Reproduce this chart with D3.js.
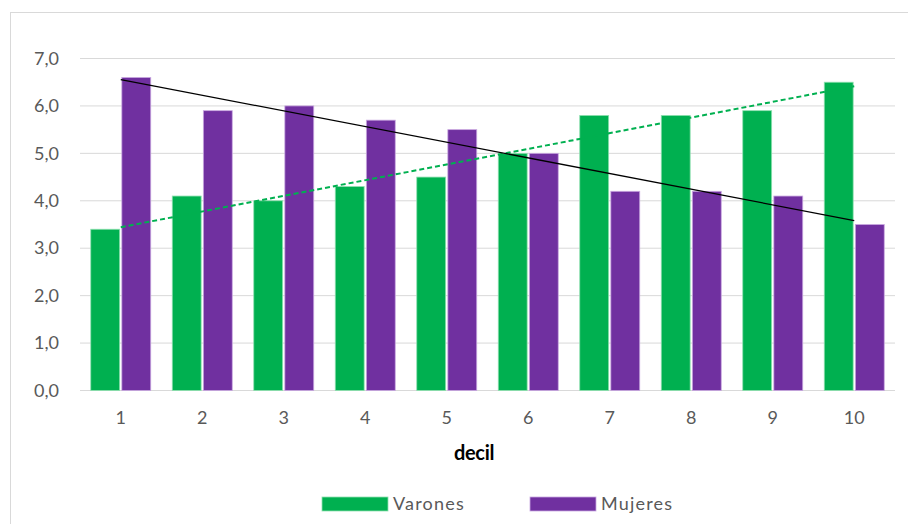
<!DOCTYPE html>
<html>
<head>
<meta charset="utf-8">
<script src="https://cdn.jsdelivr.net/npm/d3@7"></script>
<style>
  body { margin: 0; background: #fff; }
  svg { font-family: Lato, "Liberation Sans", sans-serif; }
</style>
</head>
<body>
<svg id="chart"></svg>
<script>
// datos
const deciles = [1, 2, 3, 4, 5, 6, 7, 8, 9, 10];
const varones = [3.4, 4.1, 4.0, 4.3, 4.5, 5.0, 5.8, 5.8, 5.9, 6.5];
const mujeres = [6.6, 5.9, 6.0, 5.7, 5.5, 5.0, 4.2, 4.2, 4.1, 3.5];
const seriesNames = ['Varones', 'Mujeres'];
const yTicks = [0, 1, 2, 3, 4, 5, 6, 7];

const width = 908, height = 524;
const colors = { Varones: '#00B050', Mujeres: '#7030A0' };

const svg = d3.select('#chart').attr('width', width).attr('height', height);

// marco exterior del grafico
svg.append('rect')
  .attr('x', 10.5).attr('y', 12.5)
  .attr('width', 920).attr('height', 540)
  .attr('fill', 'none').attr('stroke', '#d9d9d9');

const x = d3.scaleBand()
  .domain(deciles)
  .range([80, 895])
  .paddingInner(0.264)
  .paddingOuter(0.132);

const xSub = d3.scaleBand()
  .domain(seriesNames)
  .range([0, x.bandwidth()])
  .paddingInner(0.07);

const y = d3.scaleLinear().domain([0, 7]).range([390.5, 58.5]);

// lineas de grilla
svg.append('g')
  .selectAll('line')
  .data(yTicks)
  .join('line')
  .attr('x1', 80).attr('x2', 895)
  .attr('y1', d => y(d)).attr('y2', d => y(d))
  .attr('stroke', '#d9d9d9').attr('stroke-width', 1);

// eje y
const fmt = d => d3.format('.1f')(d).replace('.', ',');
svg.append('g')
  .attr('transform', 'translate(59,0)')
  .call(d3.axisLeft(y).tickValues(yTicks).tickFormat(fmt).tickSize(0).tickPadding(0))
  .call(g => g.select('.domain').remove())
  .selectAll('text')
  .attr('font-size', 18).attr('fill', '#595959').attr('font-family', 'Lato, sans-serif');

// eje x
svg.append('g')
  .attr('transform', 'translate(0,411)')
  .call(d3.axisBottom(x).tickSize(0).tickPadding(0))
  .call(g => g.select('.domain').remove())
  .selectAll('text')
  .attr('font-size', 18).attr('fill', '#595959').attr('font-family', 'Lato, sans-serif');

svg.append('text')
  .attr('x', 474).attr('y', 460)
  .attr('text-anchor', 'middle')
  .attr('font-size', 20).attr('font-weight', 'bold').attr('fill', '#000')
  .attr('letter-spacing', -0.3)
  .text('decil');

// barras
const rows = deciles.map((d, i) => ({ decil: d, Varones: varones[i], Mujeres: mujeres[i] }));

const groups = svg.append('g')
  .selectAll('g')
  .data(rows)
  .join('g')
  .attr('transform', d => `translate(${x(d.decil)},0)`);

groups.selectAll('rect')
  .data(d => seriesNames.map(k => ({ key: k, value: d[k] })))
  .join('rect')
  .attr('x', d => xSub(d.key))
  .attr('width', xSub.bandwidth())
  .attr('y', d => y(d.value))
  .attr('height', d => y(0) - y(d.value))
  .attr('fill', d => colors[d.key])
  .attr('stroke', d => d.key === 'Varones' ? '#8fe0b0' : '#c9a8e0')
  .attr('stroke-width', 0.8);

// lineas de tendencia (regresion lineal, como Excel)
function trend(vals) {
  const n = vals.length;
  const xs = deciles;
  const mx = d3.mean(xs), my = d3.mean(vals);
  const b = d3.sum(xs, (v, i) => (v - mx) * (vals[i] - my)) / d3.sum(xs, v => (v - mx) ** 2);
  const a = my - b * mx;
  return [xs[0], xs[n - 1]].map(v => ({ decil: v, value: a + b * v }));
}

const line = d3.line()
  .x(d => x(d.decil) + x.bandwidth() / 2)
  .y(d => y(d.value));

svg.append('path')
  .datum(trend(varones))
  .attr('d', line)
  .attr('fill', 'none')
  .attr('stroke', '#00B050')
  .attr('stroke-width', 2)
  .attr('stroke-dasharray', '5,3');

svg.append('path')
  .datum(trend(mujeres))
  .attr('d', line)
  .attr('fill', 'none')
  .attr('stroke', '#000')
  .attr('stroke-width', 1.3);

// leyenda
const legendX = [322, 530];
const legend = svg.append('g')
  .selectAll('g')
  .data(seriesNames)
  .join('g')
  .attr('transform', (d, i) => `translate(${legendX[i]},497)`);

legend.append('rect')
  .attr('width', 66).attr('height', 14)
  .attr('fill', d => colors[d])
  .attr('stroke', d => d === 'Varones' ? '#8fe0b0' : '#c9a8e0')
  .attr('stroke-width', 0.8);

legend.append('text')
  .attr('x', 71).attr('y', 13)
  .attr('font-size', 18).attr('fill', '#595959')
  .attr('letter-spacing', 1.2)
  .text(d => d);
</script>
</body>
</html>
